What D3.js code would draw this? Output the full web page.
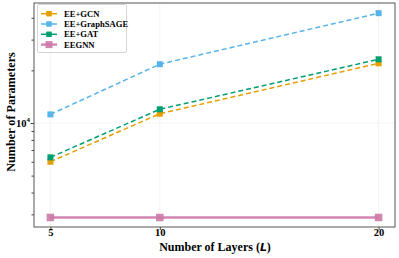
<!DOCTYPE html>
<html lang="en">
<head>
    <meta charset="UTF-8">
    <title>Parameters vs Layers</title>
    <style>
        body { margin: 0; background: #fff; }
        svg { display: block; }
        text { font-family: "Liberation Serif", "Times New Roman", serif; font-weight: bold; fill: #000; }
    </style>
    <script src="https://d3js.org/d3.v7.min.js"></script>
</head>
<body>
    <svg width="399" height="258"></svg>
    <script>
        // data
        const layers = [5, 10, 20];
        const seriesNames = ['EE+GCN', 'EE+GraphSAGE', 'EE+GAT', 'EEGNN'];
        const gcnParams = [6000, 11300, 21950];
        const sageParams = [11200, 21700, 42500];
        const gatParams = [6360, 11980, 23150];
        const eegnnParams = [2880, 2880, 2880];
        const minorTicks = [3000, 4000, 5000, 6000, 7000, 8000, 9000, 20000, 30000, 40000];

        const colors = ['#E69F00', '#56B4E9', '#009E73', '#CC79A7'];
        const allValues = [gcnParams, sageParams, gatParams, eegnnParams];

        const plotL = 34, plotR = 395, plotT = 3, plotB = 227;
        const svg = d3.select('svg');

        const x = d3.scaleLinear().domain([4.25, 20.75]).range([plotL, plotR]);
        const y = d3.scaleLog().domain([2540, 48600]).range([plotB, plotT]);

        // faint grid
        svg.append('g')
            .selectAll('line')
            .data(layers)
            .join('line')
            .attr('x1', d => x(d)).attr('x2', d => x(d))
            .attr('y1', plotT).attr('y2', plotB)
            .attr('stroke', '#eeeeee').attr('stroke-width', 0.6);
        svg.append('line')
            .attr('x1', plotL).attr('x2', plotR)
            .attr('y1', y(10000)).attr('y2', y(10000))
            .attr('stroke', '#eeeeee').attr('stroke-width', 0.6);

        // axes
        const xAxis = d3.axisBottom(x).tickValues(layers).tickSize(3).tickFormat(d3.format('d'));
        const gx = svg.append('g').attr('transform', `translate(0,${plotB})`).call(xAxis);
        gx.select('.domain').remove();
        gx.selectAll('line').attr('stroke', '#444');
        gx.selectAll('text')
            .attr('font-size', 10.5)
            .attr('font-family', '"Liberation Serif", serif')
            .attr('font-weight', 'bold')
            .attr('y', 8.5)
            .attr('dy', 0);

        const yMinor = d3.axisLeft(y).tickValues(minorTicks).tickSize(2.5).tickFormat('');
        const gy = svg.append('g').attr('transform', `translate(${plotL},0)`).call(yMinor);
        gy.select('.domain').remove();
        gy.selectAll('line').attr('stroke', '#444');

        const gyMaj = svg.append('g').attr('transform', `translate(${plotL},0)`)
            .call(d3.axisLeft(y).tickValues([10000]).tickSize(3.5).tickFormat(''));
        gyMaj.select('.domain').remove();
        gyMaj.selectAll('line').attr('stroke', '#444');

        const lbl = svg.append('text')
            .attr('x', 30).attr('y', y(10000) + 4)
            .attr('text-anchor', 'end')
            .attr('font-size', 10.5);
        lbl.append('tspan').text('10');
        lbl.append('tspan').attr('dy', -4.5).attr('font-size', 7).text('4');

        // frame
        svg.append('rect')
            .attr('x', plotL).attr('y', plotT)
            .attr('width', plotR - plotL).attr('height', plotB - plotT)
            .attr('fill', 'none').attr('stroke', '#555').attr('stroke-width', 1);

        // lines and markers
        const line = d3.line().x((d, i) => x(layers[i])).y(d => y(d));
        allValues.forEach((vals, k) => {
            const solid = k === 3;
            svg.append('path')
                .datum(vals)
                .attr('d', line)
                .attr('fill', 'none')
                .attr('stroke', colors[k])
                .attr('stroke-width', solid ? 2.4 : 1.5)
                .attr('stroke-dasharray', solid ? null : '5,3')
                .attr('opacity', solid ? 0.9 : 1);
            const s = solid ? 7.5 : 6;
            svg.append('g')
                .selectAll('rect')
                .data(vals)
                .join('rect')
                .attr('x', (d, i) => x(layers[i]) - s / 2)
                .attr('y', d => y(d) - s / 2)
                .attr('width', s).attr('height', s)
                .attr('fill', colors[k])
                .attr('opacity', solid ? 0.9 : 1);
        });

        // legend
        const lg = svg.append('g');
        lg.append('rect')
            .attr('x', 37.5).attr('y', 4.5)
            .attr('width', 89).attr('height', 48)
            .attr('fill', '#fff').attr('stroke', '#ccc').attr('stroke-width', 0.8).attr('rx', 1.5);
        seriesNames.forEach((name, k) => {
            const ly = 13.7 + k * 10.3;
            const solid = k === 3;
            lg.append('line')
                .attr('x1', 41).attr('x2', 57)
                .attr('y1', ly).attr('y2', ly)
                .attr('stroke', colors[k])
                .attr('stroke-width', solid ? 2.4 : 1.5)
                .attr('opacity', solid ? 0.9 : 1);
            const s = solid ? 7 : 5.5;
            lg.append('rect')
                .attr('x', 49 - s / 2).attr('y', ly - s / 2)
                .attr('width', s).attr('height', s)
                .attr('fill', colors[k])
                .attr('opacity', solid ? 0.9 : 1);
            lg.append('text')
                .attr('x', 64).attr('y', ly + 3)
                .attr('font-size', 8.6)
                .text(name);
        });

        // axis titles
        const xt = svg.append('text')
            .attr('x', 215).attr('y', 251)
            .attr('text-anchor', 'middle')
            .attr('font-size', 12);
        xt.append('tspan').text('Number of Layers (');
        xt.append('tspan').attr('font-family', '"DejaVu Sans", sans-serif').attr('font-style', 'italic').attr('font-size', 10.8).text('L');
        xt.append('tspan').text(')');

        svg.append('text')
            .attr('transform', `translate(15,${(plotT + plotB) / 2 - 3}) rotate(-90)`)
            .attr('text-anchor', 'middle')
            .attr('font-size', 12.2)
            .text('Number of Parameters');
    </script>
</body>
</html>
